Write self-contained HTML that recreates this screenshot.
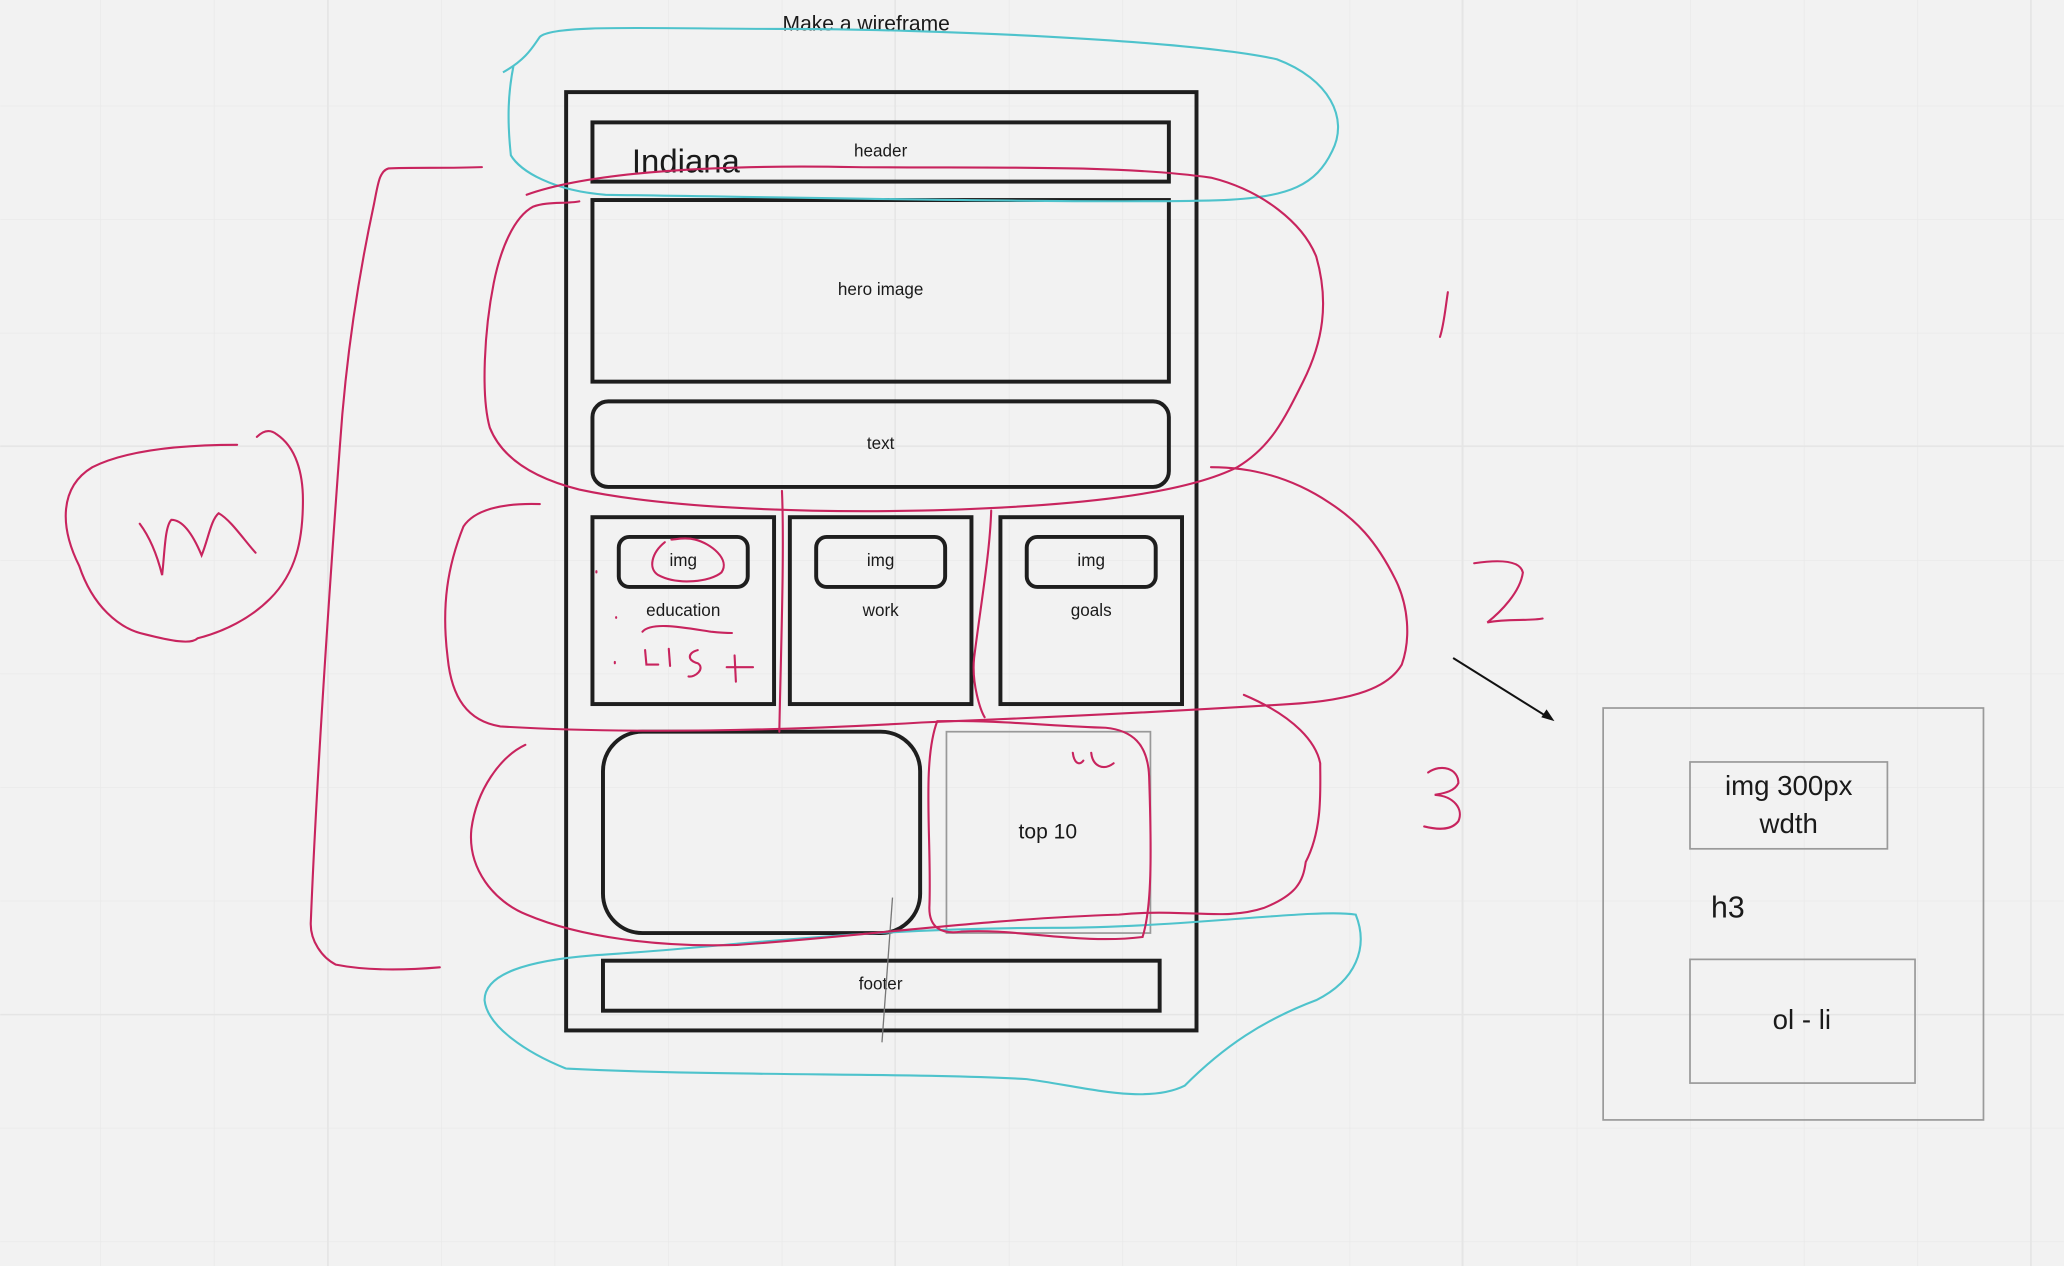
<!DOCTYPE html>
<html><head><meta charset="utf-8"><style>
html,body{margin:0;padding:0;background:#f2f2f2;}
svg{display:block;}
text{font-family:"Liberation Sans",sans-serif;fill:#1a1a1a;}
</style></head><body>
<svg width="2064" height="1266" viewBox="0 0 1568 962" xmlns="http://www.w3.org/2000/svg">
<defs>
<pattern id="g" x="-10.3" y="-6" width="86.3" height="86.3" patternUnits="userSpaceOnUse">
<path d="M0 0V86.3M0 0H86.3" stroke="#e8e8e8" stroke-width="1" fill="none"/>
</pattern>
</defs>
<rect width="1568" height="962" fill="#f2f2f2"/>
<rect width="1568" height="962" fill="url(#g)"/>
<g stroke="#e5e5e5" stroke-width="1.2"><line x1="249" y1="0" x2="249" y2="962"/><line x1="680" y1="0" x2="680" y2="962"/><line x1="1111" y1="0" x2="1111" y2="962"/><line x1="1543" y1="0" x2="1543" y2="962"/><line x1="0" y1="339" x2="1568" y2="339"/><line x1="0" y1="771" x2="1568" y2="771"/></g>

<text x="658" y="23" font-size="16" text-anchor="middle">Make a wireframe</text>

<g fill="none" stroke="#1e1e1e" stroke-width="3">
<rect x="430" y="70" width="479" height="713"/>
<rect x="450" y="93" width="438" height="45"/>
<rect x="450" y="152" width="438" height="138"/>
<rect x="450" y="305" width="438" height="65" rx="12"/>
<rect x="450" y="393" width="138" height="142"/>
<rect x="600" y="393" width="138" height="142"/>
<rect x="760" y="393" width="138" height="142"/>
<rect x="470" y="408" width="98" height="38" rx="8"/>
<rect x="620" y="408" width="98" height="38" rx="8"/>
<rect x="780" y="408" width="98" height="38" rx="8"/>
<rect x="458" y="556" width="241" height="153" rx="30"/>
<rect x="458" y="730" width="423" height="38"/>
</g>
<rect x="719" y="556" width="155" height="153" fill="none" stroke="#999" stroke-width="1.3"/>
<g font-size="13" text-anchor="middle">
<text x="669" y="119">header</text>
<text x="669" y="224">hero image</text>
<text x="669" y="341">text</text>
<text x="519" y="430">img</text><text x="669" y="430">img</text><text x="829" y="430">img</text>
<text x="519" y="468">education</text><text x="669" y="468">work</text><text x="829" y="468">goals</text>
<text x="669" y="752">footer</text>
</g>
<text x="480" y="131" font-size="25">Indiana</text>
<text x="796" y="637" font-size="16" text-anchor="middle">top 10</text>
<line x1="678" y1="682" x2="670" y2="792" stroke="#777" stroke-width="1"/>

<g fill="none" stroke="#9a9a9a" stroke-width="1.3">
<rect x="1218" y="538" width="289" height="313"/>
<rect x="1284" y="579" width="150" height="66"/>
<rect x="1284" y="729" width="171" height="94"/>
</g>
<g font-size="21" text-anchor="middle">
<text x="1359" y="604">img 300px</text><text x="1359" y="633">wdth</text>
<text x="1369" y="782">ol - li</text>
</g>
<text x="1300" y="697" font-size="23">h3</text>
<line x1="1104" y1="500" x2="1176" y2="545" stroke="#111" stroke-width="1.5"/>
<path d="M1181 548 L1171 545 L1175 539 Z" fill="#111"/>

<g fill="none" stroke="#4ec3cc" stroke-width="1.6">
<path d="M382 55 C400 45 405 35 410 28 C420 18 500 22 600 22 C700 22 900 30 970 45 C1010 60 1025 90 1012 115 C1000 140 980 150 930 152 C850 155 600 150 460 148 C420 145 395 130 388 118 C385 90 386 70 390 50"/>
<path d="M430 812 C400 800 370 780 368 760 C368 740 400 730 450 726 C550 720 650 705 800 705 C900 705 1000 690 1030 695 C1040 720 1030 745 1000 760 C960 775 930 795 900 825 C870 840 820 825 780 820 C700 815 550 818 430 812"/>
</g>

<g fill="none" stroke="#c8245e" stroke-width="1.6" stroke-linecap="round">
<path d="M366 127 C340 128 310 127 295 128 C288 130 287 140 284 155 C270 220 262 280 258 340 C250 450 240 600 236 700 C235 715 245 728 255 733 C280 738 310 737 334 735"/>
<path d="M180 338 C150 338 100 340 70 355 C45 370 45 400 60 430 C70 460 90 478 110 482 C130 487 145 490 150 485 C170 480 190 470 205 455 C225 435 230 410 230 380 C230 360 225 340 210 330 C205 326 200 327 195 332"/>
<path d="M106 398 C115 410 120 425 123 437 C125 420 125 400 130 395 C140 395 148 410 153 422 C158 410 160 395 166 390 C175 395 185 410 194 420"/>
<path d="M400 148 C450 130 550 125 650 127 C750 128 850 125 920 135 C960 145 990 170 1000 195 C1010 230 1005 260 990 290 C975 320 965 340 940 355 C900 375 820 385 700 388 C600 390 500 385 440 372 C400 362 380 345 372 325 C365 300 368 250 375 215 C380 190 390 165 405 157 C415 153 430 155 440 153"/>
<path d="M410 383 C380 382 360 388 352 400 C340 430 335 460 340 500 C343 530 355 548 380 552 C480 558 600 555 700 549 C800 545 900 540 980 535 C1030 532 1055 522 1065 505 C1072 485 1070 460 1060 440 C1045 410 1030 395 1010 382 C980 362 950 355 920 355"/>
<path d="M399 566 C380 575 362 600 358 630 C355 660 375 685 400 695 C440 712 500 720 560 718 C650 712 750 698 850 695 C900 690 930 700 960 690 C985 680 990 670 992 655 C1005 630 1003 600 1003 580 C1000 565 985 545 945 528"/>
<path d="M594 373 C596 420 593 500 592 556"/>
<path d="M753 388 C752 420 745 460 740 500 C738 520 745 540 748 545"/>
<path d="M712 548 C700 580 708 640 706 690 C706 705 715 710 730 708 C770 705 820 718 868 712 C875 690 875 650 873 590 C872 565 860 555 840 553 C800 552 760 547 712 548"/>
<path d="M505 412 C495 420 492 432 500 437 C515 445 540 442 548 435 C555 425 540 413 528 410 C520 408 513 410 510 410"/>
<path d="M488 480 C495 472 520 477 540 480 C550 481 555 481 556 481"/>
<path d="M490 494 L491 505 L500 505 M508 493 L509 506 M530 494 C522 496 522 502 530 504 C536 508 528 515 523 514 M558 498 L559 518 M552 507 L572 507"/>
<path d="M468 469 L468 469.5 M467 503 L467 504 M453 434 L453 435"/>
<path d="M815 572 C816 580 820 582 823 578 M829 572 C830 582 838 586 846 580"/>
<path d="M1100 222 C1098 235 1097 247 1094 256"/>
<path d="M1120 428 C1140 425 1155 426 1157 435 C1155 450 1140 465 1130 473 C1145 470 1162 472 1172 470"/>
<path d="M1085 587 C1095 580 1108 584 1108 595 C1105 602 1095 603 1090 604 C1105 605 1112 615 1108 624 C1102 632 1090 630 1082 628"/>
</g>
</svg>
</body></html>
